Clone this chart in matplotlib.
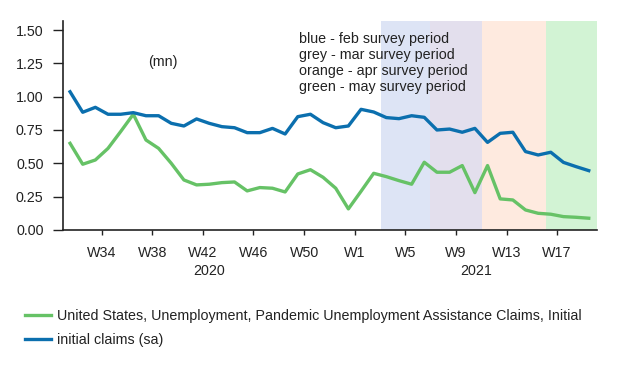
import numpy as np
import matplotlib
matplotlib.use('Agg')
import matplotlib.pyplot as plt
import matplotlib.transforms as mtransforms

plt.rcParams['font.family'] = ['Liberation Sans', 'DejaVu Sans']
plt.rcParams['font.size'] = 10.3

# weekly values (mn), 42 weeks from W31 2020 to W19 2021
pua_initial = [0.65, 0.493, 0.525, 0.612, 0.738, 0.868, 0.675, 0.612, 0.50, 0.375,
               0.338, 0.343, 0.355, 0.36, 0.293, 0.318, 0.313, 0.285, 0.42, 0.452,
               0.395, 0.313, 0.158, 0.29, 0.425, 0.40, 0.37, 0.343, 0.508, 0.433,
               0.433, 0.483, 0.28, 0.483, 0.233, 0.225, 0.15, 0.125, 0.118, 0.10,
               0.095, 0.088]
initial_claims = [1.037, 0.883, 0.92, 0.868, 0.868, 0.88, 0.857, 0.857, 0.80, 0.78,
                  0.833, 0.80, 0.775, 0.767, 0.73, 0.73, 0.762, 0.72, 0.85, 0.868,
                  0.805, 0.767, 0.78, 0.905, 0.885, 0.843, 0.835, 0.857, 0.845, 0.75,
                  0.757, 0.733, 0.762, 0.657, 0.725, 0.733, 0.588, 0.5625, 0.583, 0.507,
                  0.475, 0.445]

tick_labels = ['W34', 'W38', 'W42', 'W46', 'W50', 'W1', 'W5', 'W9', 'W13', 'W17']
tick_pos = [2.5, 6.5, 10.5, 14.5, 18.5, 22.5, 26.5, 30.5, 34.5, 38.5]
year_break = 22.5

# survey periods (week index), colours
periods = [(24.55, 28.45, '#dde4f5'),
           (28.45, 32.55, '#e3dfed'),
           (32.55, 37.6, '#feeadf'),
           (37.6, 41.7, '#d2f3d4')]

x = np.arange(len(pua_initial))

fig = plt.figure(figsize=(6.21, 3.65), dpi=100)
ax = fig.add_axes([0.1014, 0.37, 0.8595, 0.5733])

xmin, xmax = -0.56, 41.63
for a, b, c in periods:
    ax.axvspan(a, b, color=c, lw=0, zorder=0)

l1, = ax.plot(x, pua_initial, color='#66c266', lw=2.4, solid_joinstyle='round', zorder=3)
l2, = ax.plot(x, initial_claims, color='#0b6fae', lw=2.4, solid_joinstyle='round', zorder=3)

ax.set_xlim(xmin, xmax)
ax.set_ylim(0, 1.57)
ax.set_yticks([0, 0.25, 0.5, 0.75, 1.0, 1.25, 1.5])
ax.set_yticklabels(['0.00', '0.25', '0.50', '0.75', '1.00', '1.25', '1.50'])
ax.set_xticks(tick_pos)
ax.set_xticklabels(tick_labels)
ax.set_xticks([year_break], minor=True)
ax.tick_params(axis='y', length=7, width=1, pad=7, colors='#222222')
ax.tick_params(axis='x', which='major', length=3.5, width=1, pad=8, colors='#222222')
ax.tick_params(axis='x', which='minor', length=7, width=1.2, color='#222222')
for s in ['top', 'right']:
    ax.spines[s].set_visible(False)
for s in ['left', 'bottom']:
    ax.spines[s].set_linewidth(1.2)
    ax.spines[s].set_color('#222222')

# year labels under week ticks
trans = mtransforms.blended_transform_factory(ax.transData, fig.transFigure)
ax.text((xmin + year_break) / 2, 1 - 271 / 365, '2020', transform=trans,
        ha='center', va='center', color='#222222')
ax.text((year_break + xmax) / 2, 1 - 271 / 365, '2021', transform=trans,
        ha='center', va='center', color='#222222')

fig.text(163 / 621, 1 - 62 / 365, '(mn)', ha='center', va='center', color='#222222')
fig.text(299 / 621, 1 - 63 / 365,
         'blue - feb survey period\ngrey - mar survey period\n'
         'orange - apr survey period\ngreen - may survey period',
         ha='left', va='center', linespacing=1.16, color='#222222')

fig.legend([l1, l2],
           ['United States, Unemployment, Pandemic Unemployment Assistance Claims, Initial',
            'initial claims (sa)'],
           loc='center left', bbox_to_anchor=(25 / 621, 1 - 328 / 365),
           frameon=False, borderpad=0, borderaxespad=0, handlelength=1.85,
           handletextpad=0.4, labelspacing=0.65, labelcolor='#222222')

fig.savefig('out.png', dpi=100)
